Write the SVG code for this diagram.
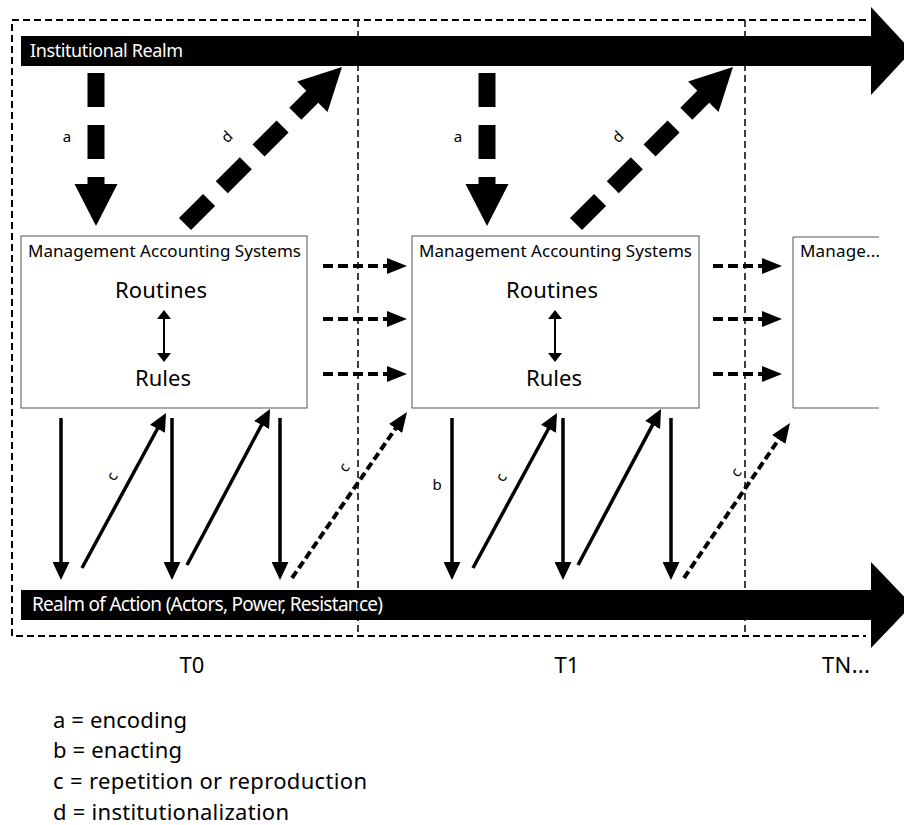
<svg xmlns="http://www.w3.org/2000/svg" width="904" height="825" viewBox="0 0 904 825">
  <style>
    text { font-family: "Noto Sans", "Open Sans", "Liberation Sans", sans-serif; fill: #000; }
    .band-label { fill: #fff; font-size: 18px; }
    .box { fill: #fff; stroke: #555; stroke-width: 1; }
    .box-title { font-size: 17px; }
    .big { font-size: 22px; }
    .tag { font-size: 15px; }
    .legend { font-size: 22px; }
    .frame { fill: none; stroke: #000; stroke-width: 2; stroke-dasharray: 7 4; }
    .divider { fill: none; stroke: #000; stroke-width: 1.5; stroke-dasharray: 7 4; }
    .heavy { fill: none; stroke: #000; stroke-width: 17; stroke-dasharray: 34 18; }
    .solid { fill: none; stroke: #000; stroke-width: 3.5; marker-end: url(#head-solid); }
    .carry { fill: none; stroke: #000; stroke-width: 4; stroke-dasharray: 10 5; marker-end: url(#head-dash); }
    .carry-diag { fill: none; stroke: #000; stroke-width: 4; stroke-dasharray: 8 4; marker-end: url(#head-dash); }
    .mutual { fill: none; stroke: #000; stroke-width: 2; marker-start: url(#head-small); marker-end: url(#head-small); }
  </style>
  <defs>
    <marker id="head-solid" markerUnits="userSpaceOnUse" markerWidth="18" markerHeight="17" refX="6" refY="8.5" orient="auto">
      <path d="M0,0 L18,8.5 L0,17 Z" fill="#000"/>
    </marker>
    <marker id="head-dash" markerUnits="userSpaceOnUse" markerWidth="20" markerHeight="16" refX="6" refY="8" orient="auto">
      <path d="M0,0 L20,8 L0,16 Z" fill="#000"/>
    </marker>
    <marker id="head-small" markerUnits="userSpaceOnUse" markerWidth="9" markerHeight="14" refX="3" refY="7" orient="auto-start-reverse">
      <path d="M0,0 L9,7 L0,14 Z" fill="#000"/>
    </marker>
  </defs>

  <!-- realm bands -->
  <g id="institutional-realm">
    <path d="M21,36 H871 V7 L912,51 L871,95 V66 H21 Z" fill="#000"/>
    <text class="band-label" x="30" y="57" textLength="153">Institutional Realm</text>
  </g>
  <g id="realm-of-action">
    <path d="M21,590 H871 V562 L912,605 L871,648 V620 H21 Z" fill="#000"/>
    <text class="band-label" x="32" y="611" style="font-size:19px" textLength="351">Realm of Action (Actors, Power, Resistance)</text>
  </g>

  <!-- time frame and period dividers -->
  <g id="time-frame">
    <path class="frame" d="M866,20 H12 V636 H866"/>
    <line class="divider" x1="358" y1="20" x2="358" y2="636"/>
    <line class="divider" x1="745" y1="20" x2="745" y2="636"/>
  </g>

  <!-- management accounting systems per period -->
  <g id="mas-t0">
    <rect class="box" x="21" y="236" width="286" height="172"/>
    <text class="box-title" x="28" y="257" textLength="273">Management Accounting Systems</text>
    <text class="big" x="115" y="298" textLength="92">Routines</text>
    <text class="big" x="135" y="386" textLength="56">Rules</text>
    <line class="mutual" x1="164" y1="316" x2="164" y2="356"/>
  </g>
  <g id="mas-t1">
    <rect class="box" x="412" y="236" width="287" height="172"/>
    <text class="box-title" x="419" y="257" textLength="273">Management Accounting Systems</text>
    <text class="big" x="506" y="298" textLength="92">Routines</text>
    <text class="big" x="526" y="386" textLength="56">Rules</text>
    <line class="mutual" x1="555" y1="316" x2="555" y2="356"/>
  </g>
  <g id="mas-tn">
    <path d="M879,237 H793 V408 H879" fill="#fff" stroke="#555" stroke-width="1"/>
    <text class="box-title" x="800" y="257" textLength="80">Manage...</text>
  </g>

  <!-- connectors -->
  <g id="connectors">
    <!-- a: encoding -->
    <line class="heavy" x1="96" y1="73" x2="96" y2="185"/>
    <polygon points="74.5,184 117.5,184 96,226" fill="#000"/>
    <line class="heavy" x1="487" y1="73" x2="487" y2="185"/>
    <polygon points="465.5,184 508.5,184 487,226" fill="#000"/>

    <!-- d: institutionalization -->
    <line class="heavy" x1="185" y1="224" x2="313" y2="96"/>
    <polygon points="342,67 327.5,111.9 297.1,81.5" fill="#000"/>
    <line class="heavy" x1="576" y1="224" x2="704" y2="96"/>
    <polygon points="733,67 718.5,111.9 688.1,81.5" fill="#000"/>

    <!-- carry-over between periods -->
    <line class="carry" x1="323" y1="266" x2="393" y2="266"/>
    <line class="carry" x1="323" y1="319" x2="393" y2="319"/>
    <line class="carry" x1="323" y1="374" x2="393" y2="374"/>
    <line class="carry" x1="713" y1="266" x2="768" y2="266"/>
    <line class="carry" x1="713" y1="319" x2="768" y2="319"/>
    <line class="carry" x1="713" y1="374" x2="768" y2="374"/>

    <!-- b: enacting -->
    <line class="solid" x1="61" y1="418" x2="61" y2="568"/>
    <line class="solid" x1="172" y1="418" x2="172" y2="568"/>
    <line class="solid" x1="280" y1="418" x2="280" y2="568"/>
    <line class="solid" x1="452" y1="418" x2="452" y2="568"/>
    <line class="solid" x1="563" y1="418" x2="563" y2="568"/>
    <line class="solid" x1="671" y1="418" x2="671" y2="568"/>

    <!-- c: repetition or reproduction -->
    <line class="solid" x1="82" y1="568" x2="160.3" y2="423.5"/>
    <line class="solid" x1="187" y1="565" x2="264.4" y2="419.6"/>
    <line class="solid" x1="473" y1="568" x2="551.3" y2="423.5"/>
    <line class="solid" x1="578" y1="565" x2="655.4" y2="419.6"/>
    <line class="carry-diag" x1="292" y1="578" x2="399" y2="423.5"/>
    <line class="carry-diag" x1="684" y1="578" x2="782.1" y2="434.5"/>

    <!-- connector tags -->
    <text class="tag" x="67" y="142" text-anchor="middle">a</text>
    <text class="tag" x="458" y="142" text-anchor="middle">a</text>
    <text class="tag" transform="translate(227,137) rotate(-45)" text-anchor="middle" y="5">d</text>
    <text class="tag" transform="translate(618,137) rotate(-45)" text-anchor="middle" y="5">d</text>
    <text class="tag" x="437" y="490" text-anchor="middle">b</text>
    <text class="tag" transform="translate(113,477) rotate(-61)" text-anchor="middle" y="4">c</text>
    <text class="tag" transform="translate(502,478) rotate(-61)" text-anchor="middle" y="4">c</text>
    <text class="tag" transform="translate(345,468) rotate(-55)" text-anchor="middle" y="4">c</text>
    <text class="tag" transform="translate(737,473) rotate(-56)" text-anchor="middle" y="4">c</text>
  </g>

  <!-- period labels -->
  <g id="periods">
    <text class="big" x="192" y="673" text-anchor="middle">T0</text>
    <text class="big" x="567" y="673" text-anchor="middle">T1</text>
    <text class="big" x="822" y="673" textLength="48">TN...</text>
  </g>

  <!-- legend -->
  <g id="legend">
    <text class="legend" x="53" y="728" textLength="134">a = encoding</text>
    <text class="legend" x="53" y="758" textLength="129">b = enacting</text>
    <text class="legend" x="53" y="789" textLength="314">c = repetition or reproduction</text>
    <text class="legend" x="53" y="820" textLength="236">d = institutionalization</text>
  </g>
</svg>
